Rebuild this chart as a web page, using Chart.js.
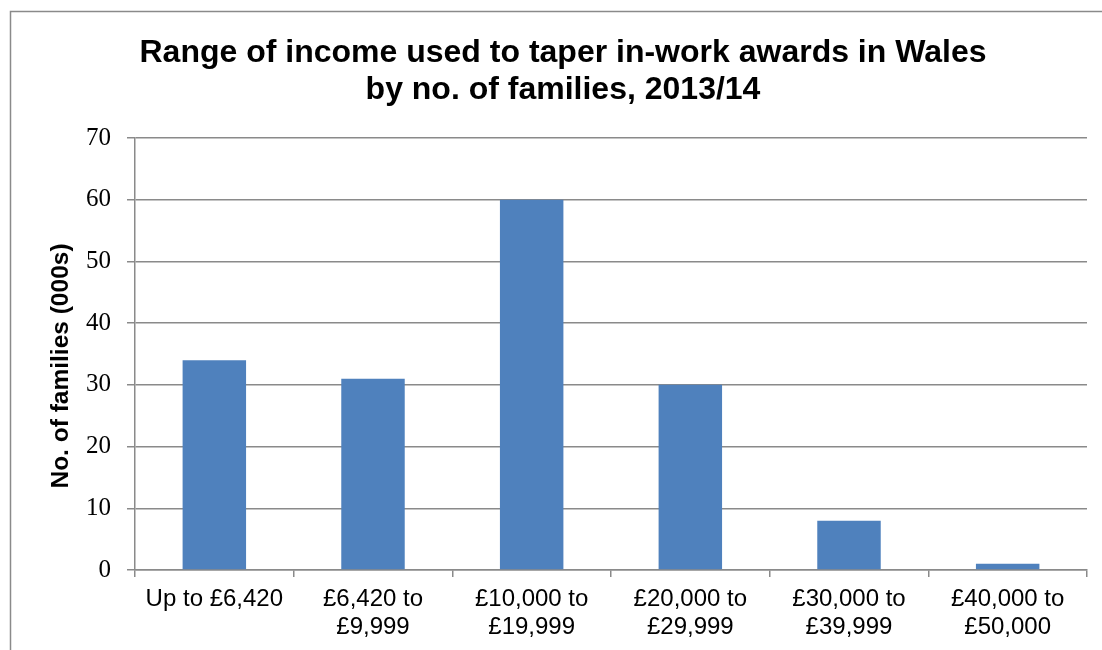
<!DOCTYPE html>
<html>
<head>
<meta charset="utf-8">
<script src="https://cdn.jsdelivr.net/npm/chart.js@4/dist/chart.umd.min.js"></script>
<style>
  html, body { margin: 0; padding: 0; background: #fff; overflow: hidden; }
  #wrap { position: relative; width: 1102px; height: 650px; }
</style>
</head>
<body>
<div id="wrap"><canvas id="c" width="1102" height="650"></canvas></div>
<script>
// Income bands (x categories) and families per band, in thousands
const incomeBands = [
  ['Up to £6,420'],
  ['£6,420 to', '£9,999'],
  ['£10,000 to', '£19,999'],
  ['£20,000 to', '£29,999'],
  ['£30,000 to', '£39,999'],
  ['£40,000 to', '£50,000']
];
const familiesThousands = [34, 31, 60, 30, 8, 1];
const titleLines = ['Range of income used to taper in-work awards in Wales', 'by no. of families, 2013/14'];
const yAxisTitle = 'No. of families (000s)';
const yMax = 70;
const yStep = 10;

const GRID = '#8a8a8a';

// Outer frame, chart heading and rotated axis caption
const decorations = {
  id: 'decorations',
  beforeDraw(chart) {
    const ctx = chart.ctx;
    ctx.save();
    ctx.fillStyle = '#fff';
    ctx.fillRect(0, 0, chart.width, chart.height);
    ctx.strokeStyle = GRID;
    ctx.lineWidth = 1.5;
    ctx.beginPath();
    ctx.moveTo(10.5, chart.height);
    ctx.lineTo(10.5, 11.5);
    ctx.lineTo(chart.width, 11.5);
    ctx.stroke();
    ctx.restore();
  },
  afterDraw(chart) {
    const ctx = chart.ctx;
    ctx.save();
    ctx.fillStyle = '#000';
    ctx.textAlign = 'center';
    ctx.textBaseline = 'middle';
    ctx.font = 'bold 32px "Liberation Sans", Arial, sans-serif';
    titleLines.forEach((line, i) => ctx.fillText(line, 563, 53 + i * 37));
    ctx.translate(61, 366);
    ctx.rotate(-Math.PI / 2);
    ctx.font = 'bold 24.5px "Liberation Sans", Arial, sans-serif';
    ctx.fillText(yAxisTitle, 0, 0);
    ctx.restore();
  }
};

new Chart(document.getElementById('c'), {
  type: 'bar',
  data: {
    labels: incomeBands,
    datasets: [{
      data: familiesThousands,
      backgroundColor: '#4f81bd',
      borderWidth: 0,
      categoryPercentage: 1,
      barPercentage: 0.4
    }]
  },
  options: {
    responsive: false,
    animation: false,
    events: [],
    layout: { padding: { top: 138, right: 15, bottom: 0, left: 0 } },
    plugins: {
      legend: { display: false },
      tooltip: { enabled: false },
      title: { display: false }
    },
    scales: {
      x: {
        afterFit(scale) { scale.height = 80; },
        border: { color: GRID, width: 1.5 },
        grid: {
          offset: true,
          drawOnChartArea: false,
          drawTicks: true,
          tickLength: 7,
          color: GRID,
          lineWidth: 1.5
        },
        ticks: {
          color: '#000',
          padding: 8,
          maxRotation: 0,
          autoSkip: false,
          font: { family: '"Liberation Sans", Arial, sans-serif', size: 24, lineHeight: 1.17 }
        }
      },
      y: {
        min: 0,
        max: yMax,
        afterFit(scale) { scale.width = 135; },
        border: { color: GRID, width: 1.5 },
        grid: {
          color: GRID,
          lineWidth: 1.5,
          drawTicks: true,
          tickLength: 8
        },
        ticks: {
          stepSize: yStep,
          color: '#000',
          padding: 16,
          font: { family: '"Liberation Serif", "Times New Roman", serif', size: 25 }
        }
      }
    }
  },
  plugins: [decorations]
});
</script>
</body>
</html>
